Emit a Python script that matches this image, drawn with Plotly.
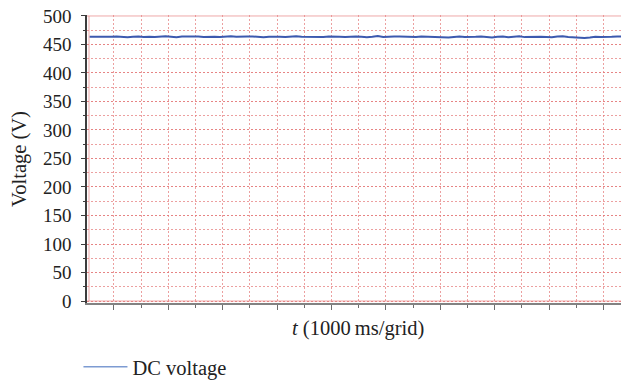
import plotly.graph_objects as go

# ---- data ----
voltage = [
    463.5, 463.2, 463.8, 462.6, 463.4, 464.0, 463.1, 462.8, 463.6, 464.1,
    463.0, 463.7, 462.9, 463.9, 464.3, 463.5, 462.7, 463.8, 464.2, 463.4,
    463.9, 463.1, 464.0, 463.6, 462.9, 463.7, 464.4, 463.5, 463.0, 463.8,
    464.1, 463.3, 462.8, 463.6, 464.2, 463.7, 463.1, 463.9, 464.5, 463.6,
    463.2, 464.0, 463.4, 462.9, 463.8, 464.3, 463.5, 463.0, 463.7, 464.1,
    463.4, 462.8, 463.6, 464.9, 463.3, 463.0, 463.8, 464.2, 463.5, 462.7,
    463.3, 464.0, 463.6, 462.9, 463.5, 463.1, 462.4, 463.2, 463.8, 463.0,
    462.6, 463.4, 464.1, 462.8, 462.3, 463.5, 463.9, 462.7, 463.1, 464.3,
    462.9, 463.4, 462.8, 463.6, 463.0, 462.5, 463.9, 464.4, 463.2, 462.6,
    461.9, 461.4, 462.2, 463.7, 463.3, 462.9, 463.6, 464.2, 463.8,
]
sample_step = 0.2   # seconds (grid = 1 s)
t_start = 0.1
time_s = [t_start + sample_step * i for i in range(len(voltage))]

y_ticks = [0, 50, 100, 150, 200, 250, 300, 350, 400, 450, 500]

grid_col = "rgba(228,120,120,0.7)"
border_col = "rgba(232,140,140,0.75)"
grid_dash = "2px,2px"
tick_font = 19
text_font = 20.5

fig = go.Figure()
fig.add_trace(go.Scatter(
    x=time_s, y=voltage, mode="lines",
    line=dict(color="rgb(60,90,175)", width=2),
    showlegend=False, hoverinfo="skip",
))
fig.add_trace(go.Scatter(
    x=[None], y=[None], mode="lines", name="DC voltage",
    line=dict(color="rgb(125,155,210)", width=1.5),
))

x_left = 0.01
x_right = x_left + 534 / 27.2

fig.update_layout(
    width=621, height=387,
    margin=dict(l=87, r=0, t=15, b=78),
    paper_bgcolor="white", plot_bgcolor="white",
    font=dict(family="Liberation Serif", size=tick_font, color="#222"),
    xaxis=dict(
        range=[x_left, x_right],
        tick0=1, dtick=2,
        ticks="outside", ticklen=5, tickcolor="rgb(110,110,110)", tickwidth=1,
        showticklabels=False,
        showgrid=True, gridcolor=grid_col, griddash=grid_dash, gridwidth=1,
        minor=dict(dtick=1, tick0=0, ticks="outside", ticklen=3,
                   tickcolor="rgb(110,110,110)",
                   showgrid=True, gridcolor=grid_col, griddash=grid_dash, gridwidth=1),
        showline=True, linecolor="rgb(130,130,130)", linewidth=1.5,
        zeroline=False,
    ),
    yaxis=dict(
        range=[-3.5, 501.7],
        tickvals=y_ticks,
        ticks="outside", ticklen=4, tickcolor="rgb(60,60,60)",
        ticklabelstandoff=6,
        tickfont=dict(size=tick_font),
        showgrid=True, gridcolor=grid_col, griddash=grid_dash, gridwidth=1,
        minor=dict(dtick=25, tick0=0, ticks="outside", ticklen=2,
                   tickcolor="rgb(60,60,60)",
                   showgrid=True, gridcolor=grid_col, griddash=grid_dash, gridwidth=1),
        showline=True, linecolor="rgb(60,60,60)", linewidth=1.5,
        zeroline=False,
        title=dict(text="Voltage (V)", standoff=11, font=dict(size=text_font)),
    ),
    legend=dict(x=-0.016, xanchor="left", y=-0.222, yanchor="middle",
                orientation="h", itemwidth=44,
                font=dict(size=text_font), bgcolor="rgba(0,0,0,0)"),
)

# red plot-frame lines
fig.add_shape(type="line", xref="paper", x0=0, x1=1, yref="y", y0=500, y1=500,
              line=dict(color=border_col, width=1))
fig.add_shape(type="line", xref="paper", x0=0, x1=1, yref="y", y0=0, y1=0,
              line=dict(color=border_col, width=1))
fig.add_shape(type="line", xref="x", x0=0.084, x1=0.084, yref="y", y0=0, y1=500,
              line=dict(color=border_col, width=1))

fig.add_annotation(
    xref="paper", yref="paper", x=0.507, y=-0.09, yanchor="middle",
    text="<i>t</i> (1000\u2009ms/grid)", showarrow=False,
    font=dict(family="Liberation Serif", size=text_font, color="#222"),
)

fig.write_html("out.html")
